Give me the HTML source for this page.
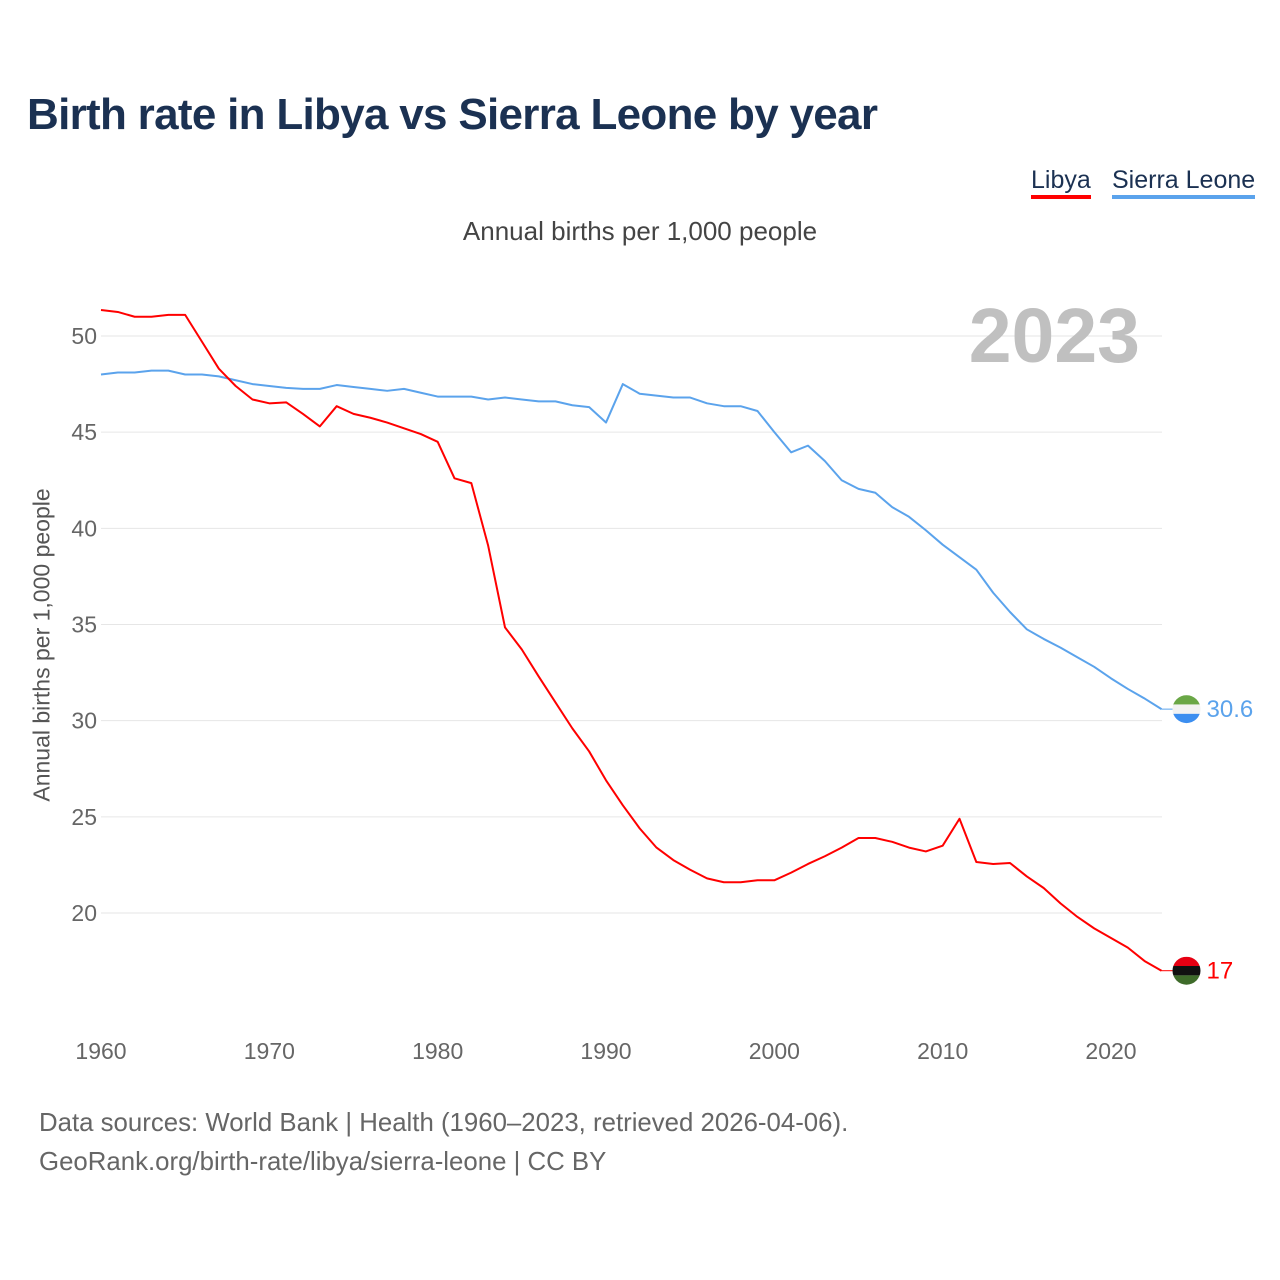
<!DOCTYPE html>
<html><head><meta charset="utf-8">
<style>
html,body{margin:0;padding:0;background:#fff;}
body{width:1280px;height:1280px;position:relative;font-family:"Liberation Sans",sans-serif;overflow:hidden;}
.t{position:absolute;white-space:nowrap;}
</style></head>
<body>
<div class="t" style="left:27px;top:90px;font-size:44px;font-weight:bold;color:#1b3152;letter-spacing:-0.7px;">Birth rate in Libya vs Sierra Leone by year</div>
<div class="t" style="left:1031px;top:165px;font-size:25px;color:#1b3152;border-bottom:4px solid #ff0000;line-height:30px;">Libya</div>
<div class="t" style="left:1112px;top:165px;font-size:25px;color:#1b3152;border-bottom:4px solid #5ba3ec;line-height:30px;">Sierra Leone</div>
<div class="t" style="left:0;width:1280px;text-align:center;top:216px;font-size:26px;color:#444;">Annual births per 1,000 people</div>
<div class="t" style="left:42px;top:645px;font-size:23px;color:#555;transform:translate(-50%,-50%) rotate(-90deg);">Annual births per 1,000 people</div>
<div class="t" style="left:39px;top:1104px;font-size:25.8px;color:#666;line-height:39px;">Data sources: World Bank | Health (1960–2023, retrieved 2026-04-06).<br>GeoRank.org/birth-rate/libya/sierra-leone | CC BY</div>
<svg id="chart" width="1280" height="1280" style="position:absolute;left:0;top:0;"></svg>
<script>
const years=[];for(let y=1960;y<=2023;y++)years.push(y);
const libya=[51.35,51.25,51.0,51.0,51.1,51.1,49.7,48.3,47.4,46.7,46.5,46.55,45.95,45.3,46.35,45.95,45.75,45.5,45.2,44.9,44.5,42.6,42.35,39.1,34.85,33.7,32.3,30.95,29.6,28.4,26.9,25.6,24.4,23.4,22.75,22.25,21.8,21.6,21.6,21.7,21.7,22.1,22.55,22.95,23.4,23.9,23.9,23.7,23.4,23.2,23.5,24.9,22.65,22.55,22.6,21.9,21.3,20.5,19.8,19.2,18.7,18.2,17.5,17.0];
const sierra=[48.0,48.1,48.1,48.2,48.2,48.0,48.0,47.9,47.7,47.5,47.4,47.3,47.25,47.25,47.45,47.35,47.25,47.15,47.25,47.05,46.85,46.85,46.85,46.7,46.8,46.7,46.6,46.6,46.4,46.3,45.5,47.5,47.0,46.9,46.8,46.8,46.5,46.35,46.35,46.1,45.0,43.95,44.3,43.5,42.5,42.05,41.85,41.1,40.6,39.9,39.15,38.5,37.85,36.65,35.65,34.75,34.25,33.8,33.3,32.8,32.2,31.65,31.15,30.6];
const yTicks=[20,25,30,35,40,45,50];
const xTicks=[1960,1970,1980,1990,2000,2010,2020];
const NS='http://www.w3.org/2000/svg';
const svg=document.getElementById('chart');
const xs=v=>101+(v-1960)*(1010/60);
const ys=v=>913-(v-20)*(577/30);
function mk(tag,attrs){const e=document.createElementNS(NS,tag);for(const k in attrs)e.setAttribute(k,attrs[k]);svg.appendChild(e);return e;}
yTicks.forEach(t=>{
  const g=mk('line',{x1:101,x2:1162,y1:ys(t),y2:ys(t),stroke:'#e6e6e6','stroke-width':1});
  
  
  const l=mk('text',{x:97,y:ys(t)+8,'text-anchor':'end','font-size':23,fill:'#666','font-family':'Liberation Sans, sans-serif'});
  l.textContent=t;
  
  
});
xTicks.forEach(t=>{
  const l=mk('text',{x:xs(t),y:1059,'text-anchor':'middle','font-size':23,fill:'#666','font-family':'Liberation Sans, sans-serif'});
  l.textContent=t;
  
  
});
const yr=mk('text',{x:1140,y:362,'text-anchor':'end','font-size':77,'font-weight':'bold',fill:'#c0c0c0','font-family':'Liberation Sans, sans-serif'});
yr.textContent='2023';


function line(data,color,name){
  const p=mk('polyline',{points:data.map((v,i)=>xs(years[i])+','+ys(v)).join(' '),fill:'none',stroke:color,'stroke-width':2,'stroke-linejoin':'round'});
  
  
}
line(sierra,'#5ba3ec','sierra-leone-line');
line(libya,'#ff0000','libya-line');
function endMark(data,color,top,mid,bot,name,label){
  const v=data[data.length-1],x=xs(2023),y=ys(v),cx=x+25;
  mk('line',{x1:x,x2:cx-14,y1:y,y2:y,stroke:color,'stroke-width':1});
  const g=document.createElementNS(NS,'g');svg.appendChild(g);
  
  
  const cp='cp'+name;
  g.innerHTML=`<clipPath id="${cp}"><circle cx="${cx}" cy="${y}" r="14"/></clipPath><g clip-path="url(#${cp})"><rect x="${cx-14}" y="${y-14}" width="28" height="10" fill="${top}"/><rect x="${cx-14}" y="${y-4.7}" width="28" height="9.4" fill="${mid}"/><rect x="${cx-14}" y="${y+4.7}" width="28" height="10" fill="${bot}"/></g>`;
  const t=mk('text',{x:cx+20,y:y+8,'font-size':24,fill:color,'font-family':'Liberation Sans, sans-serif'});
  t.textContent=label;
  
  
}
endMark(sierra,'#5ba3ec','#6aa746','#f2f2f2','#3c8ef0','sierra-leone-flag','30.6');
endMark(libya,'#ff0000','#e70013','#111','#3e6b2a','libya-flag','17');
</script>
</body></html>
